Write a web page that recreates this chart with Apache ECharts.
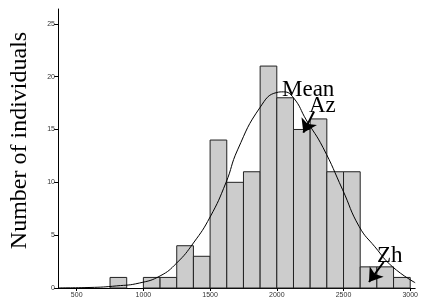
<!DOCTYPE html>
<html>
<head>
<meta charset="utf-8">
<script src="https://cdn.jsdelivr.net/npm/echarts@6/dist/echarts.min.js"></script>
<style>
  html, body { margin: 0; padding: 0; background: #fff; }
  #chart_id { width: 421px; height: 301px; }
</style>
</head>
<body>
<div id="chart_id"></div>
<script>
// histogram bins (lower edge) and counts, bin width 125
var binStarts = [750, 875, 1000, 1125, 1250, 1375, 1500, 1625, 1750, 1875, 2000, 2125, 2250, 2375, 2500, 2625, 2750, 2875];
var binWidth = 125;
var counts = [1, 0, 1, 1, 4, 3, 14, 10, 11, 21, 18, 15, 16, 11, 11, 2, 2, 1];

// fitted normal curve
var curveX = [360, 600, 800, 970, 1125, 1250, 1375, 1500, 1618, 1706, 1875, 2000, 2051, 2125, 2221, 2346, 2493, 2618, 2735, 2868, 3037];
var curveY = [0.01, 0.05, 0.2, 0.47, 1.14, 2.37, 4.26, 6.72, 9.94, 13.07, 17.1, 18.5, 18.56, 18.0, 15.9, 13.3, 9.3, 5.8, 3.9, 2.0, 0.5];

var xTicks = [500, 1000, 1500, 2000, 2500, 3000];
var yTicks = [0, 5, 10, 15, 20, 25];

// arrows: [from, to]
var azArrow = [[2279, 16.7], [2199, 14.7]];
var zhArrow = [[2801, 2.46], [2691, 0.57]];

var chart = echarts.init(document.getElementById('chart_id'));

var bars = [];
for (var i = 0; i < binStarts.length; i++) {
  if (counts[i] > 0) bars.push([binStarts[i], binStarts[i] + binWidth, counts[i]]);
}
var curve = curveX.map(function (x, i) { return [x, curveY[i]]; });

var serif = '"Liberation Serif", "DejaVu Serif", serif';

var option = {
  animation: false,
  grid: { left: 57, right: 0, top: 9, bottom: 13 },
  xAxis: {
    type: 'value',
    min: 360,
    max: 3037,
    splitLine: { show: false },
    axisLine: { show: true, onZero: false, lineStyle: { color: '#000', width: 1 } },
    axisTick: { show: true, length: 3, customValues: xTicks, lineStyle: { color: '#000' } },
    axisLabel: {
      customValues: xTicks, fontSize: 7, color: '#333', margin: 4, fontFamily: 'Arial, sans-serif',
      formatter: function (v) { return String(v); }
    }
  },
  yAxis: {
    type: 'value',
    min: 0,
    max: 26.4,
    name: 'Number of individuals',
    nameLocation: 'middle',
    nameGap: 26,
    nameTextStyle: { fontFamily: serif, fontSize: 24, color: '#000', padding: [0, 0, 0, 16] },
    splitLine: { show: false },
    axisLine: { show: true, lineStyle: { color: '#000', width: 1 } },
    axisTick: { show: true, length: 4, customValues: yTicks, lineStyle: { color: '#000' } },
    axisLabel: { customValues: yTicks, fontSize: 7, color: '#333', margin: 3, fontFamily: 'Arial, sans-serif' }
  },
  series: [
    {
      type: 'custom',
      data: bars,
      encode: { x: [0, 1], y: 2 },
      renderItem: function (params, api) {
        var p0 = api.coord([api.value(0), api.value(2)]);
        var p1 = api.coord([api.value(1), 0]);
        return {
          type: 'rect',
          shape: { x: p0[0], y: p0[1], width: p1[0] - p0[0], height: p1[1] - p0[1] },
          style: { fill: '#cccccc', stroke: '#222', lineWidth: 1 }
        };
      }
    },
    {
      type: 'line',
      data: curve,
      smooth: true,
      showSymbol: false,
      lineStyle: { color: '#000', width: 1 },
      markLine: {
        silent: true,
        symbol: ['none', 'arrow'],
        symbolSize: 13,
        label: { show: false },
        lineStyle: { color: '#000', width: 2, type: 'solid' },
        data: [
          [{ coord: azArrow[0] }, { coord: azArrow[1] }],
          [{ coord: zhArrow[0] }, { coord: zhArrow[1] }]
        ]
      }
    }
  ],
  graphic: [
    { type: 'text', left: 282, top: 78, style: { text: 'Mean', font: '23px ' + serif, fill: '#000' } },
    { type: 'text', left: 309, top: 94, style: { text: 'Az', font: '23px ' + serif, fill: '#000' } },
    { type: 'text', left: 377, top: 244, style: { text: 'Zh', font: '23px ' + serif, fill: '#000' } }
  ]
};

chart.setOption(option);
</script>
</body>
</html>
